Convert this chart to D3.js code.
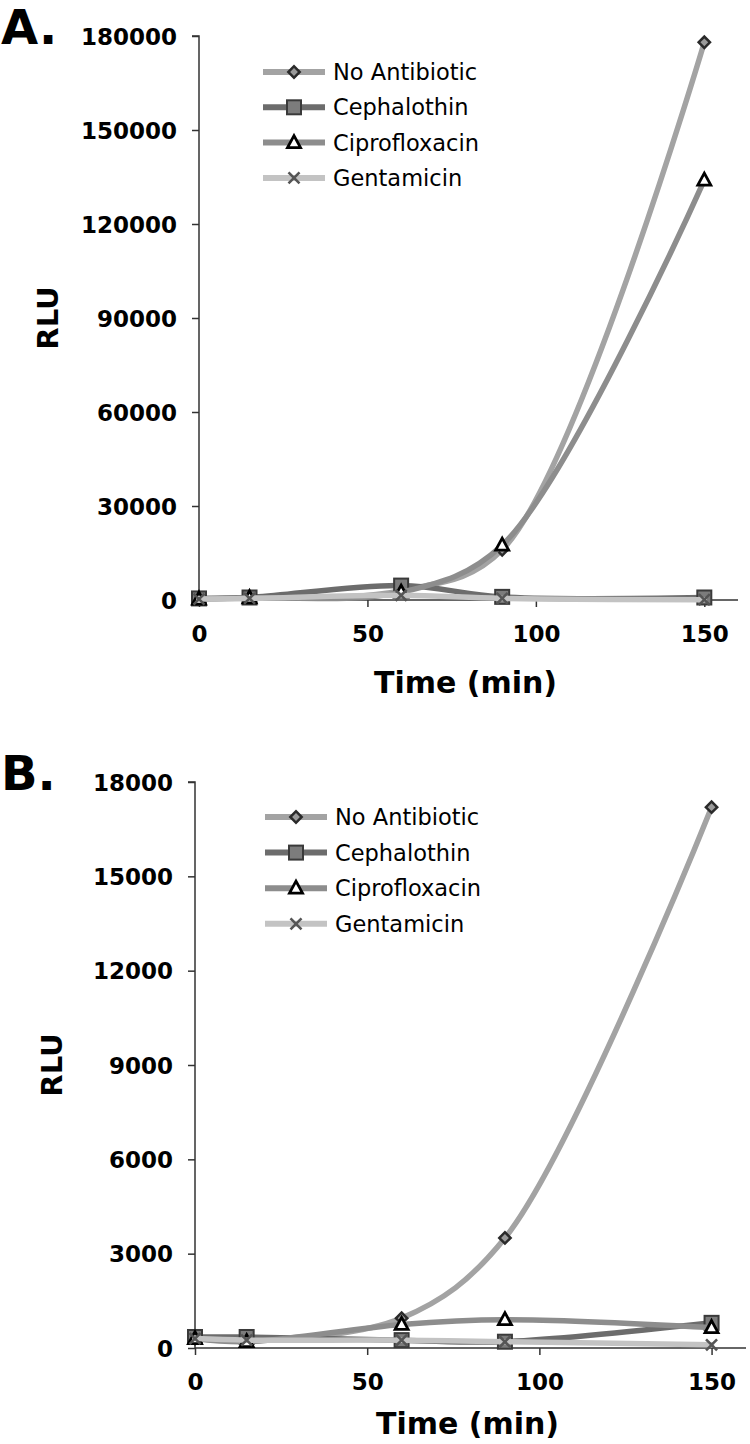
<!DOCTYPE html>
<html>
<head>
<meta charset="utf-8">
<script src="https://cdn.jsdelivr.net/npm/d3@7"></script>
<style>
  html, body { margin: 0; padding: 0; background: #fff; }
  svg { display: block; }
</style>
</head>
<body>
<script>
// ---------- DATA ----------
const timeMin = [0, 15, 60, 90, 150];
const seriesNames = ["No Antibiotic", "Cephalothin", "Ciprofloxacin", "Gentamicin"];

// Panel A (RLU)
const aNoAntibiotic = [500, 800, 3000, 16000, 178000];
const aCephalothin  = [500, 800, 4600, 1000, 800];
const aCiprofloxacin = [300, 700, 2500, 17500, 134000];
const aGentamicin   = [300, 500, 1500, 500, 100];

// Panel B (RLU)
const bNoAntibiotic = [300, 250, 950, 3500, 17200];
const bCephalothin  = [350, 350, 250, 200, 800];
const bCiprofloxacin = [300, 200, 750, 900, 650];
const bGentamicin   = [300, 250, 250, 200, 100];

const xTicks = [0, 50, 100, 150];
const yTicksA = [0, 30000, 60000, 90000, 120000, 150000, 180000];
const yTicksB = [0, 3000, 6000, 9000, 12000, 15000, 18000];

// ---------- STYLE ----------
const lineColors = ["#a3a3a3", "#6c6c6c", "#8d8d8d", "#c3c3c3"];
const markerTypes = ["diamond", "square", "triangle", "x"];
const FONT = "DejaVu Sans, Verdana, sans-serif";

const W = 750, H = 1444;
const svg = d3.select("body").append("svg").attr("width", W).attr("height", H);

function drawMarker(g, type, cx, cy) {
  if (type === "diamond") {
    g.append("path")
      .attr("d", d3.symbol().type(d3.symbolSquare).size(64)())
      .attr("transform", `translate(${cx},${cy}) rotate(45)`)
      .attr("fill", "#9a9a9a").attr("stroke", "#2a2a2a").attr("stroke-width", 2.5);
  } else if (type === "square") {
    g.append("rect")
      .attr("x", cx - 7).attr("y", cy - 7).attr("width", 14).attr("height", 14)
      .attr("fill", "#7c7c7c").attr("stroke", "#3a3a3a").attr("stroke-width", 2);
  } else if (type === "triangle") {
    g.append("path")
      .attr("d", `M${cx},${cy - 7} L${cx + 6.5},${cy + 5} L${cx - 6.5},${cy + 5} Z`)
      .attr("fill", "#fff").attr("stroke", "#000").attr("stroke-width", 2.8)
      .attr("stroke-linejoin", "miter");
  } else if (type === "x") {
    const s = 5.5;
    g.append("path")
      .attr("d", `M${cx - s},${cy - s} L${cx + s},${cy + s} M${cx - s},${cy + s} L${cx + s},${cy - s}`)
      .attr("stroke", "#555").attr("stroke-width", 2.6).attr("fill", "none");
  }
}

function drawPanel(cfg) {
  const x = d3.scaleLinear().domain([0, 160]).range([cfg.left, cfg.right]);
  const y = d3.scaleLinear().domain([0, cfg.yMax]).range([cfg.bottom, cfg.top]);
  const g = svg.append("g");

  // axes
  const yAxis = g.append("g").attr("transform", `translate(${cfg.left},0)`)
    .call(d3.axisLeft(y).tickValues(cfg.yTicks).tickSize(7).tickPadding(15).tickFormat(d3.format("d")));
  const xAxis = g.append("g").attr("transform", `translate(0,${cfg.bottom})`)
    .call(d3.axisBottom(x).tickValues(xTicks).tickSize(7).tickPadding(19).tickFormat(d3.format("d")));
  [yAxis, xAxis].forEach(a => {
    a.select(".domain").attr("stroke", "#333").attr("stroke-width", 1.5);
    a.selectAll(".tick line").attr("stroke", "#333").attr("stroke-width", 1.5);
    a.selectAll(".tick text")
      .attr("font-family", FONT)
      .attr("font-weight", "bold").attr("font-size", 23).attr("fill", "#000");
  });
  yAxis.select(".domain").attr("d", `M-7,${y(cfg.yMax)}H0V${cfg.bottom}`);
  xAxis.select(".domain").attr("d", `M${cfg.left},0H${cfg.right}`);
  yAxis.selectAll(".tick text").attr("dy", "0.36em");

  // lines
  const line = d3.line().x(d => x(d[0])).y(d => y(d[1])).curve(d3.curveCatmullRom.alpha(0.5));
  cfg.series.forEach((vals, i) => {
    const pts = timeMin.map((t, j) => [t, vals[j]]);
    g.append("path").attr("d", line(pts))
      .attr("fill", "none").attr("stroke", lineColors[i]).attr("stroke-width", 5.5)
      .attr("stroke-linecap", "round");
    const mg = g.append("g");
    pts.forEach(p => drawMarker(mg, markerTypes[i], x(p[0]), y(p[1])));
  });

  // axis titles
  g.append("text")
    .attr("x", (cfg.left + cfg.right) / 2 - 3).attr("y", cfg.xTitleY)
    .attr("text-anchor", "middle")
    .attr("font-family", FONT)
    .attr("font-weight", "bold").attr("font-size", 30).text("Time (min)");
  g.append("text")
    .attr("transform", `translate(${cfg.yTitleX},${(cfg.top + cfg.bottom) / 2}) rotate(-90)`)
    .attr("text-anchor", "middle")
    .attr("font-family", FONT)
    .attr("font-weight", "bold").attr("font-size", 29).text("RLU");

  // panel letter
  g.append("text").attr("x", 1).attr("y", cfg.letterY)
    .attr("font-family", FONT)
    .attr("font-weight", "bold").attr("font-size", 48).text(cfg.letter);

  // legend
  const lg = g.append("g");
  seriesNames.forEach((name, i) => {
    const ly = cfg.legendY + i * cfg.legendStep;
    lg.append("line").attr("x1", cfg.legendX).attr("x2", cfg.legendX + 62)
      .attr("y1", ly).attr("y2", ly)
      .attr("stroke", lineColors[i]).attr("stroke-width", 6);
    drawMarker(lg, markerTypes[i], cfg.legendX + 31, ly);
    lg.append("text").attr("x", cfg.legendX + 70).attr("y", ly).attr("dy", "0.36em")
      .attr("font-family", FONT)
      .attr("font-size", 22.5).attr("fill", "#000").text(name);
  });
}

drawPanel({
  letter: "A.", letterY: 44,
  left: 199, right: 738, top: 36, bottom: 600,
  yMax: 180000, yTicks: yTicksA,
  series: [aNoAntibiotic, aCephalothin, aCiprofloxacin, aGentamicin],
  xTitleY: 693, yTitleX: 58,
  legendX: 263, legendY: 72, legendStep: 35.3
});

drawPanel({
  letter: "B.", letterY: 790,
  left: 195, right: 746, top: 782, bottom: 1348,
  yMax: 18000, yTicks: yTicksB,
  series: [bNoAntibiotic, bCephalothin, bCiprofloxacin, bGentamicin],
  xTitleY: 1434, yTitleX: 62,
  legendX: 265, legendY: 817, legendStep: 35.6
});
</script>
</body>
</html>
